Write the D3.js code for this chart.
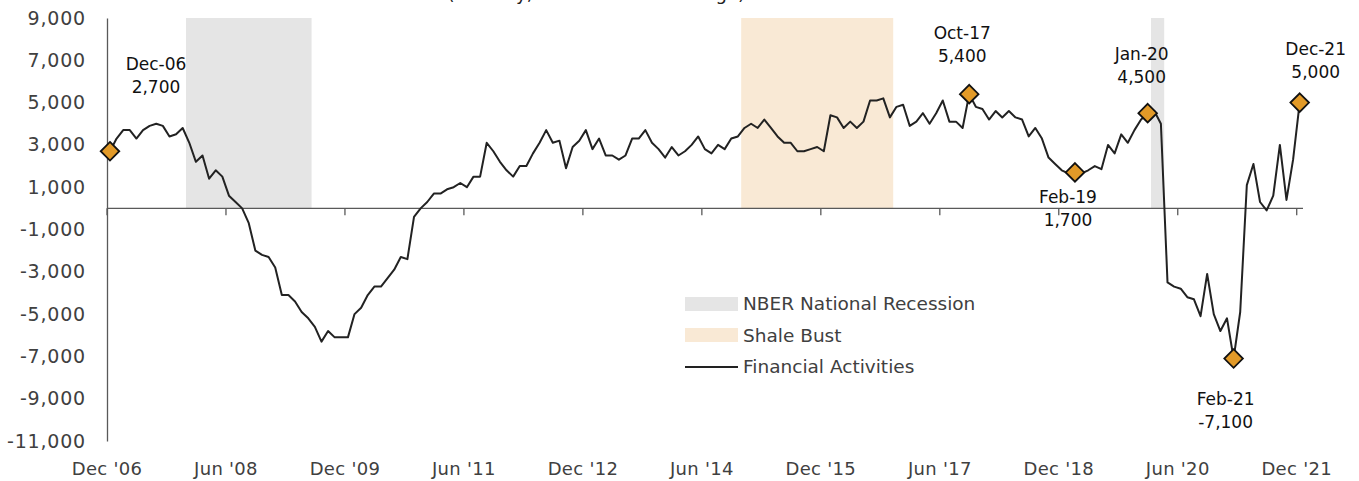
<!DOCTYPE html>
<html>
<head>
<meta charset="utf-8">
<script src="https://cdn.jsdelivr.net/npm/d3@7"></script>
<style>
  body { margin: 0; background: #fff; }
  svg { display: block; font-family: "DejaVu Sans", sans-serif; }
</style>
</head>
<body>
<script>
// monthly values, Dec 2006 .. Dec 2021 (index 0 = Dec '06)
const values = [
  2700, 3300, 3700, 3700, 3300, 3700, 3900, 4000, 3900, 3400, 3500, 3800,
  3100, 2200, 2500, 1400, 1800, 1500, 600, 300, 0, -700, -2000, -2200,
  -2300, -2800, -4100, -4100, -4400, -4900, -5200, -5600, -6300, -5800, -6100, -6100,
  -6100, -5000, -4700, -4100, -3700, -3700, -3300, -2900, -2300, -2400, -400, 0,
  300, 700, 700, 900, 1000, 1200, 1000, 1500, 1500, 3100, 2700, 2200,
  1800, 1500, 2000, 2000, 2600, 3100, 3700, 3100, 3200, 1900, 2900, 3200,
  3700, 2800, 3300, 2500, 2500, 2300, 2500, 3300, 3300, 3700, 3100, 2800,
  2400, 2900, 2500, 2700, 3000, 3400, 2800, 2600, 3000, 2800, 3300, 3400,
  3800, 4000, 3800, 4200, 3800, 3400, 3100, 3100, 2700, 2700, 2800, 2900,
  2700, 4400, 4300, 3800, 4100, 3800, 4100, 5100, 5100, 5200, 4300, 4800,
  4900, 3900, 4100, 4500, 4000, 4500, 5100, 4100, 4100, 3800, 5400, 4800,
  4700, 4200, 4600, 4300, 4600, 4300, 4200, 3400, 3800, 3300, 2400, 2100,
  1800, 1650, 1700, 1650, 1800, 2000, 1850, 3000, 2600, 3500, 3100, 3700,
  4200, 4500, 4600, 4000, -3500, -3700, -3800, -4200, -4300, -5100, -3100, -5000,
  -5800, -5200, -7100, -4900, 1100, 2100, 300, -100, 600, 3000, 400, 2300,
  5000
];

const tickMonths = [0, 18, 36, 54, 72, 90, 108, 126, 144, 162, 180];
const tickLabels = ["Dec '06", "Jun '08", "Dec '09", "Jun '11", "Dec '12", "Jun '14",
                    "Dec '15", "Jun '17", "Dec '18", "Jun '20", "Dec '21"];
const yTicks = [9000, 7000, 5000, 3000, 1000, -1000, -3000, -5000, -7000, -9000, -11000];

// shaded periods, first / last month index
const recessions = [[12, 30], [158, 159]];
const shaleBust = [[96, 118]];

// highlighted points
const callouts = [
  { i: 0,   label: "Dec-06", value: 2700,  dx: 46, dy: -81 },
  { i: 130, label: "Oct-17", value: 5400,  dx: -7, dy: -55 },
  { i: 146, label: "Feb-19", value: 1700,  dx: -7, dy: 31 },
  { i: 157, label: "Jan-20", value: 4500,  dx: -6, dy: -53 },
  { i: 170, label: "Feb-21", value: -7100, dx: -8, dy: 46 },
  { i: 180, label: "Dec-21", value: 5000,  dx: 16, dy: -48 }
];

const width = 1359, height = 481;
const axisColor = "#595959", textColor = "#404040";
const fmt = v => d3.format(",")(v).replace("\u2212", "-");

const svg = d3.select("body").append("svg")
    .attr("width", width)
    .attr("height", height);

// data points sit a little right of the tick marks
const x = d3.scaleLinear().domain([-0.45, 180.5]).range([107, 1303]);
const xTick = m => x(m - 0.45);
const y = d3.scaleLinear().domain([-11000, 9000]).range([441, 18]);

// title, mostly above the top edge
svg.append("text")
    .attr("x", 745).attr("y", 0)
    .attr("text-anchor", "end")
    .attr("font-size", 18)
    .attr("fill", "#222")
    .text("(Monthly, Year-over-Year Change)");

// shading
function shade(rows, color) {
    svg.append("g").selectAll("rect")
        .data(rows)
        .join("rect")
        .attr("x", d => x(d[0] - 0.5))
        .attr("width", d => x(d[1] + 0.5) - x(d[0] - 0.5))
        .attr("y", y(9000))
        .attr("height", y(0) - y(9000))
        .attr("fill", color);
}
shade(recessions, "#e5e5e5");
shade(shaleBust, "#f9e9d5");

// y axis
const yAxis = svg.append("g")
    .attr("transform", "translate(107,0)")
    .call(d3.axisLeft(y).tickValues(yTicks).tickSize(0).tickPadding(21).tickFormat(fmt));
yAxis.select(".domain").attr("stroke", axisColor).attr("stroke-width", 1.3);
yAxis.selectAll("text")
    .attr("font-size", 19)
    .attr("letter-spacing", 0.8)
    .attr("font-family", "DejaVu Sans, sans-serif")
    .attr("fill", textColor);

// x axis along zero
const xAxis = svg.append("g")
    .attr("transform", `translate(0,${y(0)})`);
xAxis.append("line")
    .attr("x1", 107).attr("x2", 1303)
    .attr("stroke", axisColor).attr("stroke-width", 1.3);
xAxis.selectAll(".tk")
    .data(tickMonths)
    .join("line")
    .attr("class", "tk")
    .attr("x1", d => xTick(d)).attr("x2", d => xTick(d))
    .attr("y1", 0).attr("y2", 7)
    .attr("stroke", axisColor).attr("stroke-width", 1.3);

svg.append("g").selectAll("text")
    .data(tickMonths)
    .join("text")
    .attr("x", d => xTick(d))
    .attr("y", 475)
    .attr("text-anchor", "middle")
    .attr("font-size", 18)
    .attr("letter-spacing", 0.3)
    .attr("fill", textColor)
    .text((d, i) => tickLabels[i]);

// the series
const line = d3.line()
    .x((d, i) => x(i))
    .y(d => y(d));

svg.append("path")
    .datum(values)
    .attr("d", line)
    .attr("fill", "none")
    .attr("stroke", "#222")
    .attr("stroke-width", 2)
    .attr("stroke-linejoin", "round");

// markers
const diamond = d3.symbol().type(d3.symbolDiamond2).size(220);
svg.append("g").selectAll("path")
    .data(callouts)
    .join("path")
    .attr("d", diamond)
    .attr("transform", d => `translate(${x(d.i)},${y(d.value)})`)
    .attr("fill", "#e29a28")
    .attr("stroke", "#111")
    .attr("stroke-width", 1.8);

const lbl = svg.append("g").selectAll("text")
    .data(callouts)
    .join("text")
    .attr("text-anchor", "middle")
    .attr("font-size", 17)
    .attr("fill", "#111");
lbl.append("tspan")
    .attr("x", d => x(d.i) + d.dx)
    .attr("y", d => y(d.value) + d.dy)
    .text(d => d.label);
lbl.append("tspan")
    .attr("x", d => x(d.i) + d.dx)
    .attr("y", d => y(d.value) + d.dy + 23)
    .text(d => fmt(d.value));

// legend
const legend = svg.append("g").attr("transform", "translate(685,0)");
legend.append("rect").attr("x", 0).attr("y", 297).attr("width", 53).attr("height", 14).attr("fill", "#e5e5e5");
legend.append("rect").attr("x", 0).attr("y", 328).attr("width", 53).attr("height", 14).attr("fill", "#f9e9d5");
legend.append("line").attr("x1", 0).attr("x2", 53).attr("y1", 367).attr("y2", 367)
    .attr("stroke", "#222").attr("stroke-width", 2);
const legendText = ["NBER National Recession", "Shale Bust", "Financial Activities"];
legend.selectAll("text")
    .data(legendText)
    .join("text")
    .attr("x", 58)
    .attr("y", (d, i) => 304 + i * 31.5)
    .attr("dy", "0.35em")
    .attr("font-size", 18.5)
    .attr("fill", textColor)
    .text(d => d);
</script>
</body>
</html>
